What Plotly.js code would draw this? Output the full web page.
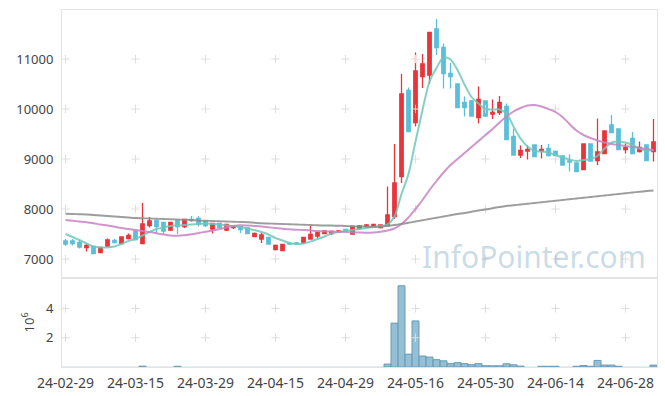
<!DOCTYPE html>
<html><head><meta charset="utf-8">
<script src="https://cdn.plot.ly/plotly-3.0.1.min.js"></script>
<style>html,body{margin:0;padding:0;background:#fff}#chart{width:665px;height:396px}</style>
</head><body><div id="chart"></div>
<script>
const dates = ["24-02-29","24-03-04","24-03-05","24-03-06","24-03-07","24-03-08","24-03-11","24-03-12","24-03-13","24-03-14",
"24-03-15","24-03-18","24-03-19","24-03-20","24-03-21","24-03-22","24-03-25","24-03-26","24-03-27","24-03-28",
"24-03-29","24-04-01","24-04-02","24-04-03","24-04-04","24-04-05","24-04-08","24-04-09","24-04-11","24-04-12",
"24-04-15","24-04-16","24-04-17","24-04-18","24-04-19","24-04-22","24-04-23","24-04-24","24-04-25","24-04-26",
"24-04-29","24-04-30","24-05-02","24-05-03","24-05-07","24-05-08","24-05-09","24-05-10","24-05-13","24-05-14",
"24-05-16","24-05-17","24-05-20","24-05-21","24-05-22","24-05-23","24-05-24","24-05-27","24-05-28","24-05-29",
"24-05-30","24-05-31","24-06-03","24-06-04","24-06-05","24-06-07","24-06-10","24-06-11","24-06-12","24-06-13",
"24-06-14","24-06-17","24-06-18","24-06-19","24-06-20","24-06-21","24-06-24","24-06-25","24-06-26","24-06-27",
"24-06-28","24-07-01","24-07-02","24-07-03","24-07-04"];

const open = [7360,7360,7330,7230,7250,7130,7260,7370,7310,7410,
7560,7310,7670,7770,7730,7580,7770,7650,7790,7810,
7760,7600,7710,7580,7630,7650,7620,7450,7400,7430,
7190,7170,7310,7320,7330,7400,7460,7510,7510,7540,
7590,7500,7610,7650,7650,7630,7670,7850,8650,10370,
9730,10650,10680,11600,11230,10710,10500,10130,10160,9830,
10160,9900,9930,10050,9450,9080,9160,9280,9160,9210,
9150,9060,8960,8920,8790,9300,8970,9110,9680,9600,
9190,9410,9150,9280,9150];
const high = [7400,7400,7380,7310,7250,7230,7410,7400,7450,7510,
7580,8120,7840,7780,7740,7740,7780,7800,7860,7860,
7780,7720,7720,7700,7680,7660,7630,7530,7530,7440,
7290,7300,7330,7340,7440,7660,7540,7580,7560,7580,
7600,7650,7680,7700,7700,7690,8450,9300,10700,10430,
11130,11100,11540,11800,11310,10920,10500,10250,10180,10450,
10170,10190,10260,10110,9610,9270,9270,9280,9280,9300,
9170,9060,9090,8920,9300,9300,9810,9560,9880,9600,
9310,9540,9350,9280,9800];
const low = [7260,7270,7210,7150,7110,7130,7240,7310,7300,7390,
7370,7300,7630,7520,7500,7560,7500,7620,7740,7650,
7640,7510,7620,7560,7600,7520,7500,7440,7320,7290,
7170,7160,7280,7290,7300,7390,7420,7500,7480,7520,
7570,7500,7590,7630,7630,7610,7660,7800,8520,9540,
9650,10420,10500,11080,10410,10410,10030,9850,9850,9710,
9860,9800,9880,9390,9080,9020,8990,9050,9010,9050,
9050,8880,8750,8750,8790,8950,8880,9110,9530,9190,
9110,9110,9130,8970,8950];
const close = [7300,7310,7240,7270,7110,7230,7380,7330,7440,7470,
7390,7700,7760,7650,7560,7730,7650,7790,7770,7700,
7670,7710,7630,7690,7660,7590,7510,7510,7480,7300,
7270,7290,7300,7310,7430,7490,7530,7560,7550,7560,
7580,7650,7660,7680,7690,7680,7880,8520,10300,9550,
10760,10900,11530,11230,10710,10650,10030,10030,9860,10190,
9860,9930,10130,9390,9080,9170,9190,9050,9190,9070,
9070,8880,8940,8750,9300,8960,9140,9560,9530,9190,
9230,9110,9230,8970,9340];

const ma5 = [7500,7440,7380,7310,7250,7230,7230,7250,7300,7360,
7400,7470,7540,7600,7630,7660,7670,7680,7690,7700,
7710,7700,7690,7670,7660,7640,7610,7580,7540,7490,
7420,7370,7320,7300,7310,7350,7400,7450,7510,7540,
7560,7580,7600,7620,7640,7660,7690,7850,8300,8700,
9350,9980,10550,10820,11030,10990,10780,10490,10240,10110,
10000,9990,9990,9910,9650,9410,9250,9160,9150,9130,
9080,9030,8990,8960,8980,9000,9060,9210,9330,9350,
9330,9280,9210,9170,9180];
const ma20 = [7780,7765,7750,7735,7715,7690,7670,7645,7620,7600,
7580,7560,7540,7515,7490,7470,7465,7475,7495,7520,
7545,7570,7600,7630,7660,7675,7670,7660,7650,7635,
7620,7605,7595,7585,7580,7570,7560,7555,7550,7545,
7540,7535,7530,7525,7530,7545,7570,7610,7700,7830,
8000,8180,8380,8560,8730,8880,9000,9120,9240,9360,
9480,9600,9730,9850,9950,10020,10070,10080,10050,10000,
9940,9840,9700,9570,9480,9420,9370,9330,9300,9280,
9260,9240,9220,9200,9180];
const ma120 = [7905,7900,7895,7890,7880,7870,7860,7850,7840,7830,
7820,7815,7810,7805,7800,7795,7790,7785,7780,7770,
7765,7760,7755,7750,7745,7740,7735,7725,7715,7710,
7705,7700,7695,7690,7685,7680,7675,7670,7668,7665,
7660,7655,7650,7648,7645,7650,7660,7680,7700,7725,
7750,7775,7800,7825,7850,7875,7900,7920,7945,7970,
7990,8015,8040,8060,8075,8090,8105,8120,8135,8150,
8165,8180,8195,8210,8225,8240,8255,8270,8285,8300,
8315,8330,8345,8358,8370];

// volume in millions of shares
const volume = [0.01,0.01,0.02,0.01,0.01,0.01,0.02,0.01,0.01,0.02,
0.02,0.06,0.02,0.01,0.01,0.01,0.05,0.01,0.02,0.01,
0.01,0.01,0.01,0.01,0.01,0.01,0.01,0.01,0.01,0.01,
0.01,0.01,0.01,0.01,0.01,0.02,0.01,0.01,0.01,0.01,
0.01,0.02,0.01,0.01,0.01,0.01,0.2,3.0,5.55,0.88,
3.15,0.75,0.68,0.5,0.42,0.23,0.3,0.23,0.16,0.23,
0.09,0.08,0.08,0.22,0.15,0.06,0.02,0.02,0.05,0.05,
0.05,0.02,0.02,0.05,0.1,0.05,0.45,0.13,0.13,0.05,
0.02,0.02,0.02,0.02,0.13];

const xTicks = dates.filter((d, i) => i % 10 === 0);
const yTicks = [7000, 8000, 9000, 10000, 11000];
const vTicks = [2, 4];

const cx = [], cy = [], vx = [], vy = [];
xTicks.forEach(t => { yTicks.forEach(v => { cx.push(t); cy.push(v); }); vTicks.forEach(v => { vx.push(t); vy.push(v); }); });

const gridCol = '#dedede';
const font = 'Noto Sans, Open Sans, sans-serif';
const crossMarker = {symbol:'cross-thin-open', size:6, color:gridCol, line:{color:gridCol, width:1}};
// outline only the bars tall enough to be seen
const volLineW = volume.map(v => v >= 0.04 ? 1 : 0);

const traces = [
  {type:'scatter', mode:'markers', x:cx, y:cy, xaxis:'x', yaxis:'y', hoverinfo:'skip', showlegend:false, marker:crossMarker},
  {type:'scatter', mode:'markers', x:vx, y:vy, xaxis:'x2', yaxis:'y2', hoverinfo:'skip', showlegend:false, marker:crossMarker},
  {type:'candlestick', x:dates, open:open, high:high, low:low, close:close, xaxis:'x', yaxis:'y', showlegend:false,
   increasing:{line:{color:'#e8353b', width:1.3}, fillcolor:'#e8353b'},
   decreasing:{line:{color:'#5bbfda', width:1.3}, fillcolor:'#5bbfda'}},
  {type:'scatter', mode:'lines', x:dates, y:ma5, xaxis:'x', yaxis:'y', showlegend:false,
   line:{color:'rgba(110,200,185,0.85)', width:2, shape:'spline', smoothing:0.8}},
  {type:'scatter', mode:'lines', x:dates, y:ma20, xaxis:'x', yaxis:'y', showlegend:false,
   line:{color:'rgba(200,130,195,0.85)', width:2, shape:'spline', smoothing:0.8}},
  {type:'scatter', mode:'lines', x:dates, y:ma120, xaxis:'x', yaxis:'y', showlegend:false,
   line:{color:'rgba(140,140,140,0.85)', width:2, shape:'spline', smoothing:0.8}},
  {type:'bar', x:dates, y:volume, xaxis:'x2', yaxis:'y2', showlegend:false,
   marker:{color:'rgba(130,180,205,0.85)', line:{color:'#6a9bb6', width:volLineW}}}
];

const axLine = {showline:true, linecolor:'#e3e3e3', linewidth:1, mirror:true, showgrid:false, zeroline:false};

const layout = {
  width:665, height:396,
  margin:{l:62, r:8, t:10, b:29},
  paper_bgcolor:'#fff', plot_bgcolor:'#fff',
  font:{family:font, color:'#444', size:13},
  showlegend:false, bargap:0,
  xaxis: Object.assign({}, axLine, {type:'category', categoryorder:'array', categoryarray:dates, domain:[0,1], anchor:'y',
    matches:'x2', showticklabels:false, ticks:'', rangeslider:{visible:false}, range:[-0.5, dates.length-0.5]}),
  yaxis: Object.assign({}, axLine, {domain:[0.25,1], range:[6625,11980], tickvals:yTicks, tickformat:'d', ticks:'outside', ticklen:5,
    tickcolor:'rgba(0,0,0,0)', tickfont:{size:13, color:'#444'}}),
  xaxis2: Object.assign({}, axLine, {type:'category', categoryorder:'array', categoryarray:dates, domain:[0,1], anchor:'y2',
    tickvals:xTicks, ticktext:xTicks, ticks:'outside', ticklen:3, tickcolor:'rgba(0,0,0,0)', tickangle:0,
    tickfont:{size:14, color:'#444'}, range:[-0.5, dates.length-0.5]}),
  yaxis2: Object.assign({}, axLine, {domain:[0,0.25], range:[0,6.1], tickvals:vTicks, ticks:'outside', ticklen:5,
    tickcolor:'rgba(0,0,0,0)', tickfont:{size:13, color:'#444'},
    title:{text:'10<sup>6</sup>', font:{size:13, color:'#444'}, standoff:8}}),
  annotations:[{text:'InfoPointer.com', xref:'paper', yref:'paper', x:0.985, y:0.31, xanchor:'right', yanchor:'middle',
    showarrow:false, font:{family:font, size:30, color:'rgba(135,175,198,0.45)'}}]
};

Plotly.newPlot('chart', traces, layout, {staticPlot:true, displayModeBar:false});
</script></body></html>
